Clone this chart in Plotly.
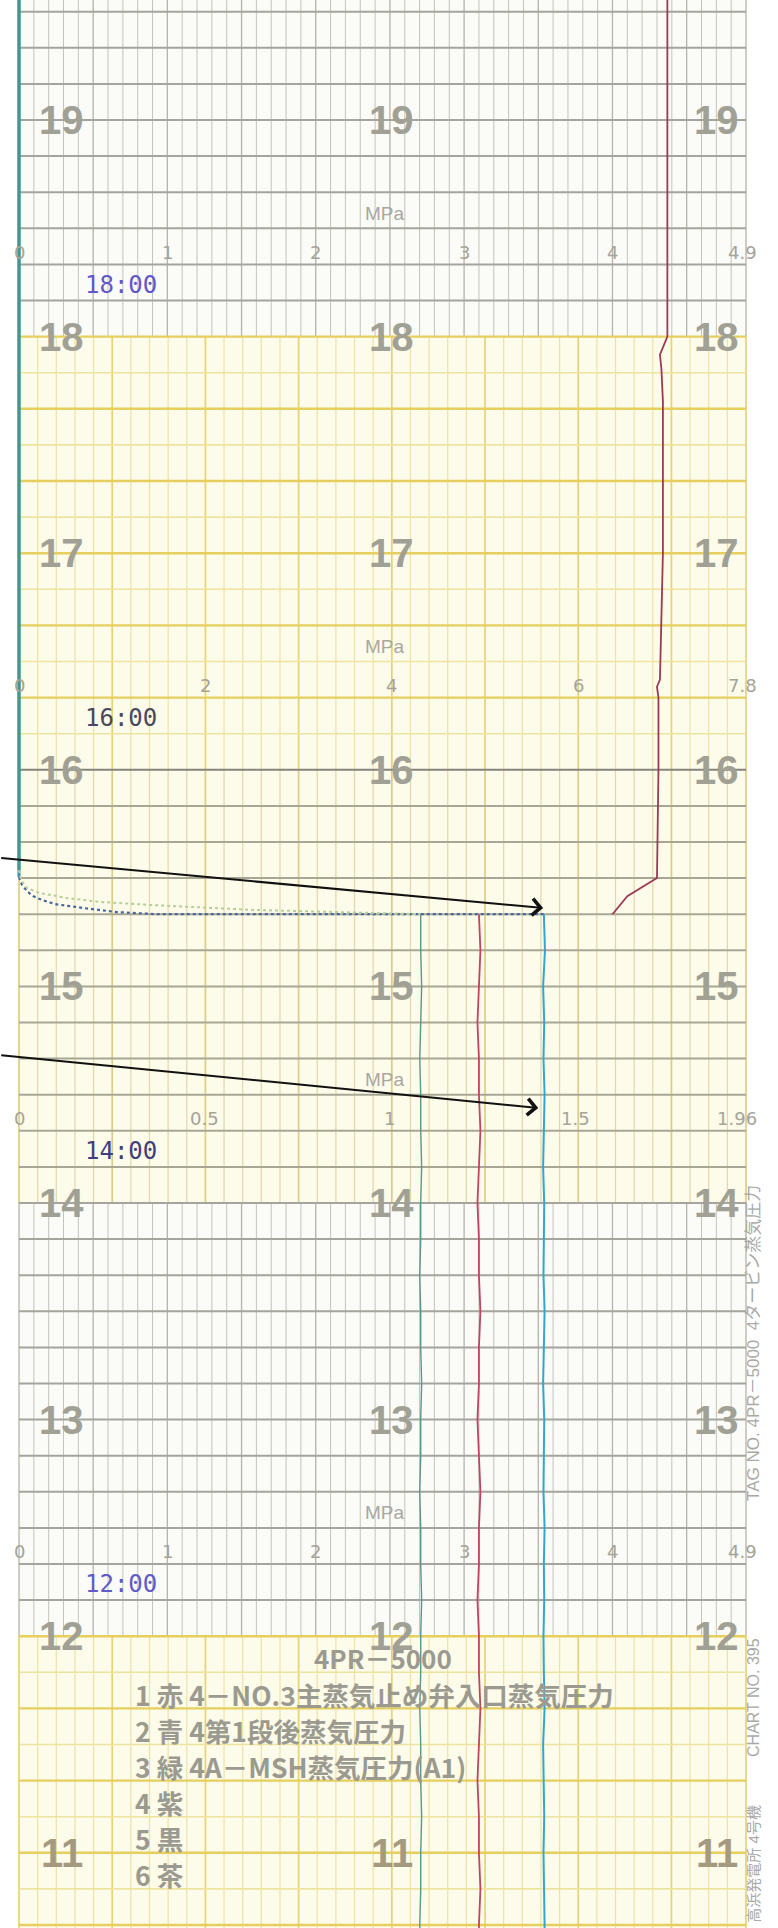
import math
import plotly.graph_objects as go

# ---------------------------------------------------------------- data
def hrs(s):
    p = [int(v) for v in s.split(":")]
    return p[0] + p[1] / 60 + (p[2] / 3600 if len(p) > 2 else 0)

HOURS = [19, 18, 17, 16, 15, 14, 13, 12, 11]

SECTION_HOURS = [18, 16, 14, 12]
SECTION_STAMPS = ["18:00", "16:00", "14:00", "12:00"]
SECTION_FULL = [4.9, 7.8, 1.96, 4.9]
SECTION_TICKS = [[0, 1, 2, 3, 4, 4.9], [0, 2, 4, 6, 7.8], [0, 0.5, 1, 1.5, 1.96], [0, 1, 2, 3, 4, 4.9]]
SECTION_TICKTEXT = [["0", "1", "2", "3", "4", "4.9"], ["0", "2", "4", "6", "7.8"],
                    ["0", "0.5", "1", "1.5", "1.96"], ["0", "1", "2", "3", "4", "4.9"]]

# pen 1 (red) on the 0-4.9 MPa scale
RED_UP_T = ["19:40", "18:00", "17:55", "17:51", "17:42", "17:00", "16:25", "16:23", "16:20",
            "16:00", "15:30", "15:25", "15:20"]
RED_UP_V = [4.37, 4.37, 4.32, 4.33, 4.34, 4.34, 4.32, 4.30, 4.31, 4.31, 4.30, 4.10, 4.00]

LOW_T = ["15:20", "15:10", "15:00", "14:50", "14:40", "14:30", "14:20", "14:10", "14:00",
         "13:50", "13:40", "13:30", "13:20", "13:10", "13:00", "12:50", "12:40", "12:30",
         "12:20", "12:10", "12:00", "11:50", "11:40", "11:30", "11:20", "11:10", "11:00",
         "10:50", "10:40", "10:30"]
RED_LOW_V = [3.10, 3.11, 3.10, 3.09, 3.10, 3.10, 3.11, 3.10, 3.09, 3.10, 3.10, 3.11, 3.10,
             3.10, 3.09, 3.10, 3.11, 3.10, 3.10, 3.09, 3.10, 3.10, 3.11, 3.10, 3.09, 3.10,
             3.10, 3.11, 3.10, 3.10]

# pen 2 (blue) on the 0-1.96 MPa scale
BLUE_UP_T = ["19:40", "15:30:18"]
BLUE_UP_V = [0.0, 0.0]
BLUE_SWING_T = ["15:30:18", "15:28:05", "15:26:10", "15:25:01", "15:23:56", "15:22:48",
                "15:21:43", "15:20:35", "15:20:00", "15:20:00"]
BLUE_SWING_V = [0.0, 0.008, 0.024, 0.038, 0.062, 0.097, 0.173, 0.264, 0.372, 1.415]
BLUE_LOW_V = [1.415, 1.418, 1.413, 1.416, 1.414, 1.417, 1.415, 1.413, 1.416, 1.415, 1.414,
              1.417, 1.415, 1.413, 1.416, 1.415, 1.414, 1.417, 1.415, 1.416, 1.414, 1.415,
              1.417, 1.413, 1.415, 1.416, 1.414, 1.415, 1.417, 1.415]

# pen 3 (green) on the 0-7.8 MPa scale
GREEN_UP_T = ["19:40", "15:32:13"]
GREEN_UP_V = [0.0, 0.0]
GREEN_SWING_T = ["15:32:13", "15:29:28", "15:27:15", "15:25:52", "15:24:29", "15:23:24",
                 "15:22:34", "15:21:11", "15:20:00"]
GREEN_SWING_V = [0.0, 0.021, 0.086, 0.225, 0.515, 0.869, 1.406, 2.51, 4.31]
GREEN_LOW_V = [4.31, 4.31, 4.32, 4.31, 4.30, 4.31, 4.31, 4.32, 4.31, 4.31, 4.30, 4.31, 4.31,
               4.32, 4.31, 4.31, 4.30, 4.31, 4.31, 4.32, 4.31, 4.31, 4.30, 4.31, 4.31, 4.32,
               4.31, 4.31, 4.30, 4.31]

LEGEND_TITLE = "4PR－5000"
LEGEND_LINES = ["1 赤 4－NO.3主蒸気止め弁入口蒸気圧力", "2 青 4第1段後蒸気圧力",
                "3 緑 4A－MSH蒸気圧力(A1)", "4 紫", "5 黒", "6 茶"]
SIDE_TEXTS = ["TAG NO. 4PR－5000  4タービン蒸気圧力", "CHART NO. 395", "高浜発電所 4号機"]

# ---------------------------------------------------------------- geometry
W, H = 778, 1928
X0, X1 = 19, 746            # chart span in px
SPAN = X1 - X0
PX_H = 216.6                # px per hour
Y19 = 120                   # px of the 19 h line
T_TOP = 19 + Y19 / PX_H
T_BOT = 19 - (H - Y19) / PX_H


def frac_range(full):
    return [-X0 / SPAN * full, (W - X0) / SPAN * full]


fig = go.Figure()

# --------------------------------------------------------------- grid
def add_lines(xs, ys, color, width, xaxis="x"):
    fig.add_trace(go.Scatter(x=xs, y=ys, mode="lines", line=dict(color=color, width=width),
                             hoverinfo="skip", showlegend=False, xaxis=xaxis, yaxis="y"))


def section_kind(t):
    if t > 18 + 1e-6:
        return "gray"
    if t > 16 + 1e-6:
        return "yellow"
    if t > 14 + 1e-6:
        return "mixed"
    if t > 12 + 1e-6:
        return "gray"
    return "yellow"


BOUNDS = [(18, T_TOP, "gray"), (16, 18, "yellow"), (14, 16, "mixed"), (12, 14, "gray"), (T_BOT, 12, "yellow")]

for lo, hi, kind in BOUNDS:
    fill = "#fbfbf7" if kind == "gray" else "#fdfbea"
    fig.add_shape(type="rect", xref="x", yref="y", x0=0, x1=1, y0=lo, y1=hi,
                  fillcolor=fill, line=dict(width=0), layer="below")

for lo, hi, kind in BOUNDS:
    if kind == "gray":
        n, major_every = 49, 5
        cmin, cmaj, wmin, wmaj = "#c4c4bc", "#b4b4ac", 1, 1.3
    elif kind == "yellow":
        n, major_every = 39, 5
        cmin, cmaj, wmin, wmaj = "#ece3a6", "#e6d472", 1.2, 1.7
    else:
        n, major_every = 39, 5
        cmin, cmaj, wmin, wmaj = "#e1d8aa", "#ddcd84", 1.2, 1.7
    xs_min, ys_min, xs_maj, ys_maj = [], [], [], []
    for k in range(n + 1):
        f = k / n
        if k % major_every == 0 or k == n:
            xs_maj += [f, f, None]; ys_maj += [lo, hi, None]
        else:
            xs_min += [f, f, None]; ys_min += [lo, hi, None]
    add_lines(xs_min, ys_min, cmin, wmin)
    add_lines(xs_maj, ys_maj, cmaj, wmaj)

k0, k1 = math.ceil(T_BOT * 6), math.floor(T_TOP * 6)
groups = {}
for k in range(k0, k1 + 1):
    t = k / 6
    kind = section_kind(t)
    if kind == "yellow":
        key = ("#e6cf5e", 2.4) if k % 2 == 0 else ("#eee4a0", 1.6)
    elif kind == "mixed":
        key = ("#a8a794", 2)
    else:
        key = ("#a5a59d", 2)
    if abs(t - 16) < 1e-6:
        key = ("#85857d", 2)
    groups.setdefault(key, ([], []))
    groups[key][0].extend([0, 1, None])
    groups[key][1].extend([t, t, None])
for (c, w), (xs, ys) in groups.items():
    add_lines(xs, ys, c, w)

# --------------------------------------------------------------- pens
def pen(times, vals, color, width, axis, dash="solid"):
    fig.add_trace(go.Scatter(x=vals, y=[hrs(t) for t in times], mode="lines",
                             line=dict(color=color, width=width, dash=dash),
                             hoverinfo="skip", showlegend=False, xaxis=axis, yaxis="y"))

pen(GREEN_SWING_T, GREEN_SWING_V, "#b5cf9a", 2, "x4", "dot")
pen(BLUE_SWING_T, BLUE_SWING_V, "#49689a", 2.2, "x3", "dot")
pen(BLUE_UP_T, BLUE_UP_V, "#3b8fb0", 3, "x3")
pen(GREEN_UP_T, GREEN_UP_V, "#3f9a8c", 3, "x4")
pen(LOW_T, GREEN_LOW_V, "#5c968c", 1.4, "x4")
pen(RED_UP_T, RED_UP_V, "#9a3a55", 1.8, "x2")
pen(LOW_T, RED_LOW_V, "#c0455f", 1.8, "x2")
pen(LOW_T, BLUE_LOW_V, "#33a6cf", 2, "x3")

# --------------------------------------------------------------- text
ann = []
for h in HOURS:
    col = "#a39a80" if h == 11 else "#a0a094"
    for fx in (0.059, 0.513, 0.960):
        ann.append(dict(x=fx, y=h, xref="x", yref="y", text=str(h), showarrow=False,
                        xanchor="center", yanchor="middle",
                        font=dict(family="Liberation Sans, Arial, sans-serif", size=40,
                                  color=col, weight="bold")))

AXMAP = {4.9: "x2", 1.96: "x3", 7.8: "x4"}
STAMP_COLORS = ["#6257c9", "#48485f", "#404079", "#5f5bc9"]
for i, sh in enumerate(SECTION_HOURS):
    full = SECTION_FULL[i]
    ax = AXMAP[full]
    ann.append(dict(x=0.504, y=sh + 0.57, xref="x", yref="y", text="MPa", showarrow=False,
                    font=dict(family="Liberation Sans, Arial, sans-serif", size=19, color="#a8a8a2")))
    for j, (v, s) in enumerate(zip(SECTION_TICKS[i], SECTION_TICKTEXT[i])):
        last = j == len(SECTION_TICKS[i]) - 1
        ann.append(dict(x=v, y=sh + 0.39, xref=ax, yref="y", text=s, showarrow=False,
                        xanchor="right" if last else "center", xshift=13 if last else 0,
                        font=dict(family="DejaVu Sans, sans-serif", size=18, color="#a4a498")))
    ann.append(dict(x=0.140, y=sh + 0.24, xref="x", yref="y", text=SECTION_STAMPS[i],
                    showarrow=False,
                    font=dict(family="DejaVu Sans Mono, Liberation Mono, monospace", size=24,
                              color=STAMP_COLORS[i])))

LEG_FONT = dict(family="Noto Sans CJK JP, sans-serif", size=26.5, color="#9a9a90", weight="bold")
ann.append(dict(x=0.50, y=11.90, xref="x", yref="y", text=LEGEND_TITLE, showarrow=False,
                borderpad=0,
                font=dict(family="Noto Sans CJK JP, sans-serif", size=26, color="#9a9a90",
                          weight="bold")))
for i, line in enumerate(LEGEND_LINES):
    ann.append(dict(x=0.158, y=11.733 - i / 6, xref="x", yref="y", text=line, showarrow=False,
                    xanchor="left", borderpad=0, font=LEG_FONT))

SIDE_POS = [13.354, 11.715, 10.95]
SIDE_SIZE = [17, 16, 15]
for txt, ty, sz in zip(SIDE_TEXTS, SIDE_POS, SIDE_SIZE):
    ann.append(dict(x=(754 - X0) / SPAN, y=ty, xref="x", yref="y", text=txt, showarrow=False,
                    textangle=-90,
                    font=dict(family="Liberation Sans, Noto Sans CJK JP, sans-serif", size=sz,
                              color="#a9a9a5")))

# arrows pointing at the blue pen
ARROWS = [(1.413, 15.362, 15.593), (1.40, 14.439, 14.683)]
for tipx, tipy, taily in ARROWS:
    ann.append(dict(x=tipx, y=tipy, xref="x3", yref="y", ax=-0.052, ay=taily,
                    axref="x3", ayref="y", text="", showarrow=True, arrowhead=4,
                    arrowsize=1.6, arrowwidth=2, arrowcolor="#111111"))

# --------------------------------------------------------------- layout
axis_common = dict(visible=False, showgrid=False, zeroline=False, fixedrange=True)
fig.update_layout(
    width=W, height=H, margin=dict(l=0, r=0, t=0, b=0),
    paper_bgcolor="#ffffff", plot_bgcolor="#ffffff",
    xaxis=dict(range=frac_range(1), domain=[0, 1], **axis_common),
    xaxis2=dict(range=frac_range(4.9), overlaying="x", anchor="y", **axis_common),
    xaxis3=dict(range=frac_range(1.96), overlaying="x", anchor="y", **axis_common),
    xaxis4=dict(range=frac_range(7.8), overlaying="x", anchor="y", **axis_common),
    yaxis=dict(range=[T_BOT, T_TOP], domain=[0, 1], **axis_common),
    annotations=ann, showlegend=False,
)

fig.write_html("out.html", config={"displayModeBar": False},
               post_script="document.body.style.margin='0px';")
